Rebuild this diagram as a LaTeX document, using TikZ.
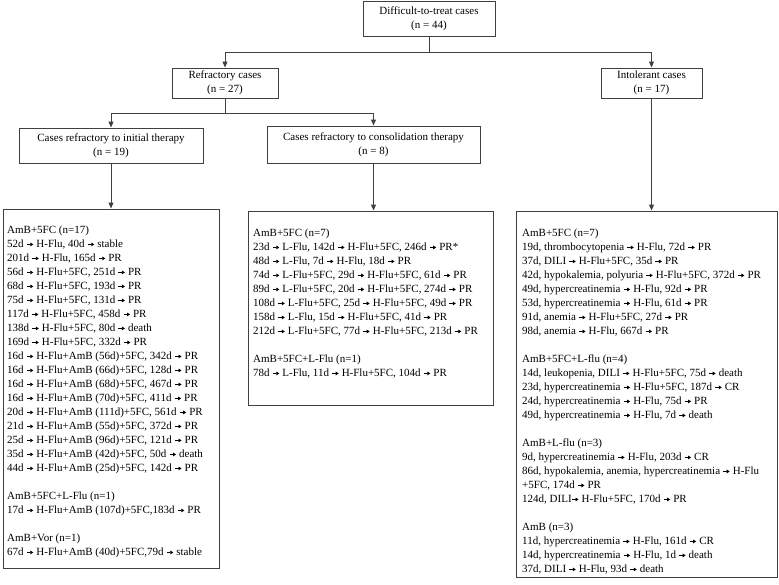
\documentclass[tikz,border=0pt]{standalone}
\usepackage{fontspec}
\setmainfont{Liberation Serif}
\usetikzlibrary{arrows.meta}
\definecolor{boxgray}{HTML}{404040}
\newcommand{\rarw}{\tikz[baseline=-3.4pt]\draw[line width=0.7pt,-{Triangle[length=3pt,width=3.6pt]}] (0pt,0pt) -- (6.5pt,0pt);}
\begin{document}
\begin{tikzpicture}[x=1pt,y=-1pt,
  box/.style={draw=boxgray,line width=1pt,inner sep=0pt},
  hdr/.style={box,align=center,font=\fontsize{11}{14}\selectfont},
  body/.style={anchor=north west,inner sep=0pt,align=left,font=\fontsize{11}{14}\selectfont},
  link/.style={draw=boxgray,line width=1pt},
  arr/.style={link,-{Triangle[length=6pt,width=5pt]}}]
\useasboundingbox (0,0) rectangle (779,584);

% header boxes
\node[hdr,minimum width=132pt,minimum height=35pt] (top) at (429,18.5) {Difficult-to-treat cases\\(n = 44)};
\node[hdr,minimum width=106pt,minimum height=30pt] (refr) at (225,83) {Refractory cases\\(n = 27)};
\node[hdr,minimum width=101pt,minimum height=30pt] (intol) at (651.5,83) {Intolerant cases\\(n = 17)};
\node[hdr,minimum width=184pt,minimum height=35pt] (init) at (111,145.5) {Cases refractory to initial therapy\\(n = 19)};
\node[hdr,minimum width=213pt,minimum height=37pt] (cons) at (373.5,144.5) {Cases refractory to consolidation therapy\\(n = 8)};

% big boxes
\node[box,minimum width=216pt,minimum height=359pt] (bigL) at (111,388.5) {};
\node[box,minimum width=245pt,minimum height=194pt] (bigM) at (370.5,308) {};
\node[box,minimum width=261pt,minimum height=366pt] (bigR) at (646.5,394) {};

% connectors
\draw[link] (top.south) -- ++(0,16) coordinate (j1);
\draw[arr] (j1) -| (refr.north);
\draw[arr] (j1) -| (intol.north);
\draw[link] (refr.south) -- ++(0,15) coordinate (j2);
\draw[arr] (j2) -| (init.north);
\draw[arr] (j2) -| (cons.north);
\draw[arr] (init.south) -- (init.south |- bigL.north);
\draw[arr] (cons.south) -- (cons.south |- bigM.north);
\draw[arr] (intol.south) -- (intol.south |- bigR.north);

% texts
\node[body] (tL) at (7,226) {AmB+5FC (n=17)\\
52d \rarw{} H-Flu, 40d \rarw{} stable\\
201d \rarw{} H-Flu, 165d \rarw{} PR\\
56d \rarw{} H-Flu+5FC, 251d \rarw{} PR\\
68d \rarw{} H-Flu+5FC, 193d \rarw{} PR\\
75d \rarw{} H-Flu+5FC, 131d \rarw{} PR\\
117d \rarw{} H-Flu+5FC, 458d \rarw{} PR\\
138d \rarw{} H-Flu+5FC, 80d \rarw{} death\\
169d \rarw{} H-Flu+5FC, 332d \rarw{} PR\\
16d \rarw{} H-Flu+AmB (56d)+5FC, 342d \rarw{} PR\\
16d \rarw{} H-Flu+AmB (66d)+5FC, 128d \rarw{} PR\\
16d \rarw{} H-Flu+AmB (68d)+5FC, 467d \rarw{} PR\\
16d \rarw{} H-Flu+AmB (70d)+5FC, 411d \rarw{} PR\\
20d \rarw{} H-Flu+AmB (111d)+5FC, 561d \rarw{} PR\\
21d \rarw{} H-Flu+AmB (55d)+5FC, 372d \rarw{} PR\\
25d \rarw{} H-Flu+AmB (96d)+5FC, 121d \rarw{} PR\\
35d \rarw{} H-Flu+AmB (42d)+5FC, 50d \rarw{} death\\
44d \rarw{} H-Flu+AmB (25d)+5FC, 142d \rarw{} PR\\[14pt]
AmB+5FC+L-Flu (n=1)\\
17d \rarw{} H-Flu+AmB (107d)+5FC,183d \rarw{} PR\\[14pt]
AmB+Vor (n=1)\\
67d \rarw{} H-Flu+AmB (40d)+5FC,79d \rarw{} stable};

\node[body] (tM) at (253,229) {AmB+5FC (n=7)\\
23d \rarw{} L-Flu, 142d \rarw{} H-Flu+5FC, 246d \rarw{} PR*\\
48d \rarw{} L-Flu, 7d \rarw{} H-Flu, 18d \rarw{} PR\\
74d \rarw{} L-Flu+5FC, 29d \rarw{} H-Flu+5FC, 61d \rarw{} PR\\
89d \rarw{} L-Flu+5FC, 20d \rarw{} H-Flu+5FC, 274d \rarw{} PR\\
108d \rarw{} L-Flu+5FC, 25d \rarw{} H-Flu+5FC, 49d \rarw{} PR\\
158d \rarw{} L-Flu, 15d \rarw{} H-Flu+5FC, 41d \rarw{} PR\\
212d \rarw{} L-Flu+5FC, 77d \rarw{} H-Flu+5FC, 213d \rarw{} PR\\[14pt]
AmB+5FC+L-Flu (n=1)\\
78d \rarw{} L-Flu, 11d \rarw{} H-Flu+5FC, 104d \rarw{} PR};

\node[body] (tR) at (522,229) {AmB+5FC (n=7)\\
19d, thrombocytopenia \rarw{} H-Flu, 72d \rarw{} PR\\
37d, DILI \rarw{} H-Flu+5FC, 35d \rarw{} PR\\
42d, hypokalemia, polyuria \rarw{} H-Flu+5FC, 372d \rarw{} PR\\
49d, hypercreatinemia \rarw{} H-Flu, 92d \rarw{} PR\\
53d, hypercreatinemia \rarw{} H-Flu, 61d \rarw{} PR\\
91d, anemia \rarw{} H-Flu+5FC, 27d \rarw{} PR\\
98d, anemia \rarw{} H-Flu, 667d \rarw{} PR\\[14pt]
AmB+5FC+L-flu (n=4)\\
14d, leukopenia, DILI \rarw{} H-Flu+5FC, 75d \rarw{} death\\
23d, hypercreatinemia \rarw{} H-Flu+5FC, 187d \rarw{} CR\\
24d, hypercreatinemia \rarw{} H-Flu, 75d \rarw{} PR\\
49d, hypercreatinemia \rarw{} H-Flu, 7d \rarw{} death\\[14pt]
AmB+L-flu (n=3)\\
9d, hypercreatinemia \rarw{} H-Flu, 203d \rarw{} CR\\
86d, hypokalemia, anemia, hypercreatinemia \rarw{} H-Flu\\
+5FC, 174d \rarw{} PR\\
124d, DILI\rarw{} H-Flu+5FC, 170d \rarw{} PR\\[14pt]
AmB (n=3)\\
11d, hypercreatinemia \rarw{} H-Flu, 161d \rarw{} CR\\
14d, hypercreatinemia \rarw{} H-Flu, 1d \rarw{} death\\
37d, DILI \rarw{} H-Flu, 93d \rarw{} death};
\end{tikzpicture}
\end{document}
